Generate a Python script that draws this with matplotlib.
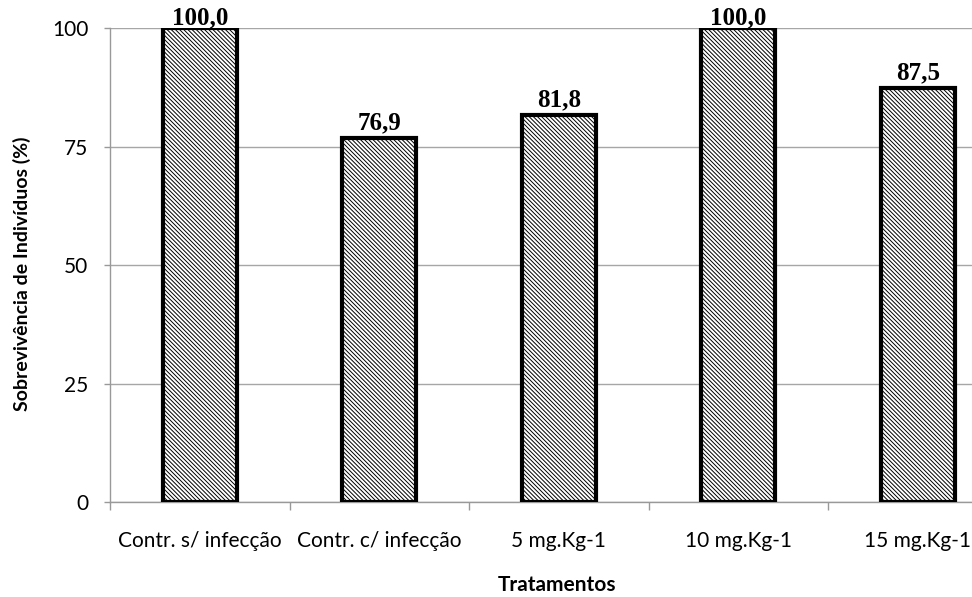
import matplotlib.pyplot as plt
import numpy as np

plt.rcParams["hatch.linewidth"] = 0.7
plt.rcParams["hatch.color"] = "#222222"

categories = ["Contr. s/ infecção", "Contr. c/ infecção", "5 mg.Kg-1", "10 mg.Kg-1", "15 mg.Kg-1"]
survival = [100.0, 76.9, 81.8, 100.0, 87.5]
value_labels = ["100,0", "76,9", "81,8", "100,0", "87,5"]
y_ticks = [0, 25, 50, 75, 100]

fig = plt.figure(figsize=(9.72, 5.97), dpi=100)
# axes run past the right edge, as in the cropped original
ax = fig.add_axes([110 / 972, 1 - 502.3 / 597, 897.5 / 972, (502.3 - 28.3) / 597])

x = np.arange(len(categories))
ax.bar(x, survival, width=0.41, facecolor="white", edgecolor="black",
       linewidth=3, hatch="\\" * 8, zorder=3)

for xi, v, lab in zip(x, survival, value_labels):
    # labels at the top of the chart get pushed down onto the bar, like Excel does
    dy = 2.5 if v < 100 else -1
    ax.annotate(lab, (xi, v), xytext=(0, dy), textcoords="offset points",
                ha="center", va="bottom", fontsize=18, fontweight="bold",
                family="Liberation Serif", annotation_clip=False, zorder=4)

ax.set_xlim(-0.5, len(categories) - 0.5)
ax.set_ylim(0, 100)
ax.set_yticks(y_ticks)
ax.set_yticklabels([str(t) for t in y_ticks], family="Lato", fontsize=15)
ax.set_xticks(x)
ax.set_xticklabels(categories, family="Lato", fontsize=15)
ax.set_xticks(np.arange(len(categories) + 1) - 0.5, minor=True)
ax.tick_params(axis="x", which="major", length=0, pad=21)
ax.tick_params(axis="x", which="minor", length=6, width=1, color="#999999", direction="out")
ax.tick_params(axis="y", length=4.5, width=1, color="#999999", pad=11)

ax.grid(axis="y", color="#a6a6a6", linewidth=1, zorder=0)
for s in ["top", "right"]:
    ax.spines[s].set_visible(False)
for s in ["left", "bottom"]:
    ax.spines[s].set_color("#999999")
    ax.spines[s].set_linewidth(1)

fig.text(22 / 972, 1 - 274 / 597, "Sobrevivência de Indivíduos (%)", rotation=90,
         ha="center", va="center", family="Lato", fontweight="bold", fontsize=14)
fig.text(557 / 972, 1 - 585 / 597, "Tratamentos", ha="center", va="center",
         family="Lato", fontweight="bold", fontsize=15)

fig.savefig("out.png", dpi=100)
